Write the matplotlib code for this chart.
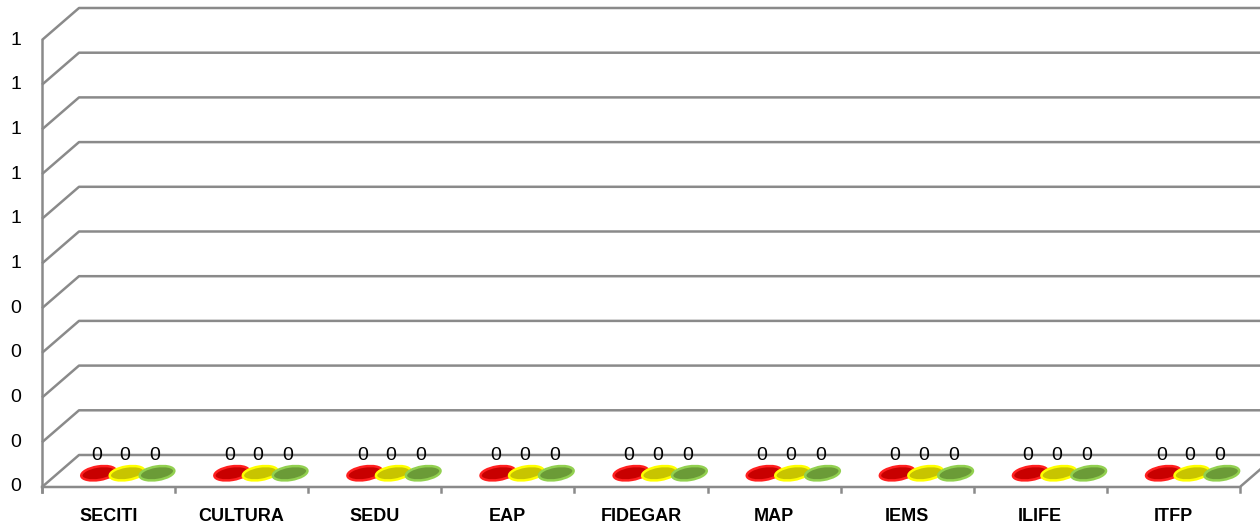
import numpy as np
import matplotlib
matplotlib.use("Agg")
import matplotlib.pyplot as plt
import matplotlib.transforms as mtransforms
from matplotlib.patches import Ellipse

# data (all values are zero in the source chart)
categories = ["SECITI", "CULTURA", "SEDU", "EAP", "FIDEGAR", "MAP", "IEMS", "ILIFE", "ITFP"]
rojo = [0, 0, 0, 0, 0, 0, 0, 0, 0]
amarillo = [0, 0, 0, 0, 0, 0, 0, 0, 0]
verde = [0, 0, 0, 0, 0, 0, 0, 0, 0]
y_ticks = [0, 0.1, 0.2, 0.3, 0.4, 0.5, 0.6, 0.7, 0.8, 0.9, 1.0]

series = [
    (rojo, "#c80000", "#ff2020"),
    (amarillo, "#c8c400", "#ffff00"),
    (verde, "#6b9b37", "#92d050"),
]

plt.rcParams["font.family"] = ["Liberation Sans", "DejaVu Sans"]

fig = plt.figure(figsize=(12.6, 5.27), dpi=100)
ax = fig.add_axes([0, 0, 1, 1])
ax.set_xlim(-0.8156, 8.651)
ax.set_ylim(-0.0895, 1.0895)
ax.axis("off")

n = len(categories)
x0, x1 = -0.5, n - 0.5
ddx, ddy = 0.278, 0.0716   # depth offset of the 3D box
gcol = "#8a8a8a"
lw = 1.8

# back wall gridlines + left wall diagonals
for v in y_ticks:
    ax.plot([x0, x0 + ddx, 10], [v, v + ddy, v + ddy], color=gcol, lw=lw,
            solid_capstyle="butt", zorder=1)
# left vertical axis
ax.plot([x0, x0], [-0.012, 1.0], color=gcol, lw=lw, zorder=1)
# floor front edge and right edge
ax.plot([x0, x1, x1 + ddx], [0, 0, ddy], color=gcol, lw=lw, zorder=1)
# category tick marks
for b in np.arange(x0, x1 + 0.01, 1.0):
    ax.plot([b, b], [-0.012, 0], color=gcol, lw=lw, zorder=1)

# y tick labels (Excel shows them rounded to integers)
for v in y_ticks:
    ax.annotate("%d" % round(v + 1e-9), (x0, v), xytext=(-18.7, 0),
                textcoords="offset points", ha="center", va="center", fontsize=14)

# category labels
for i, c in enumerate(categories):
    ax.annotate(c, (i, 0), xytext=(0, -21), textcoords="offset points",
                ha="center", va="center", fontsize=13, fontweight="bold")

# cylinders (zero height, so only the tilted top ellipse shows)
offsets = [-0.214, 0.0, 0.225]
for (vals, fc, ec), off in zip(series, offsets):
    for i, v in enumerate(vals):
        cx = i + off + ddx / 2
        cy = v + ddy / 2 - 0.005
        tr = fig.dpi_scale_trans + mtransforms.ScaledTranslation(cx, cy, ax.transData)
        ax.add_patch(Ellipse((0, 0), 0.35, 0.135, angle=9, facecolor=fc,
                             edgecolor=ec, lw=1.8, zorder=3, transform=tr))
        ax.annotate("%d" % v, (cx, cy), xytext=(-1.5, 13),
                    textcoords="offset points", ha="center", va="center",
                    fontsize=14, zorder=4)

fig.savefig("out.png", dpi=100)
